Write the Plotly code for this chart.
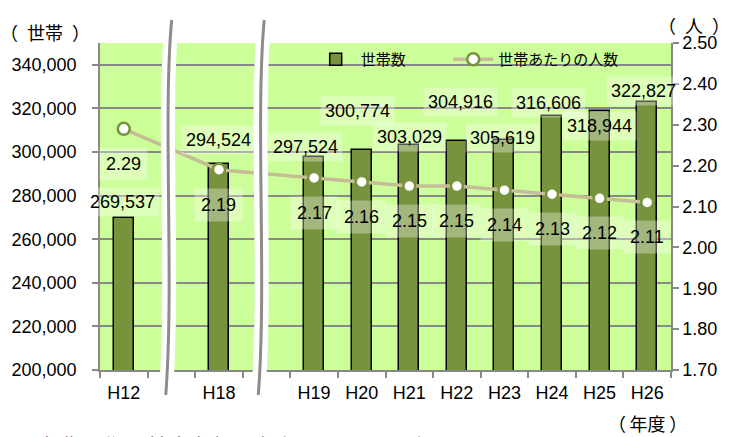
import plotly.graph_objects as go

# ---- data -------------------------------------------------------------
years = ["H12", "H18", "H19", "H20", "H21", "H22", "H23", "H24", "H25", "H26"]
households = [269537, 294524, 297524, 300774, 303029, 304916, 305619, 316606, 318944, 322827]
persons_per_household = [2.29, 2.19, 2.17, 2.16, 2.15, 2.15, 2.14, 2.13, 2.12, 2.11]

# x slots: empty slots mark the breaks between non-consecutive years
slots = ["H12", None, "H18", None, "H19", "H20", "H21", "H22", "H23", "H24", "H25", "H26"]
xpos = [slots.index(y) for y in years]

# label nudges (pixels) for the household labels
bar_label_dy = [16, 24, 10, 39, 8, 39, 2, 13, -15, 11]
bar_label_dx = [-1, 0, -9, -4, 0, 4, -2, -4, 0, -4]
line_label_dy = -35

BAR = "#77933C"
LINE = "#C4BD97"
GRID = "#888888"
BG = "#CCFF99"
FONT = "Liberation Sans, Arial, Noto Sans CJK JP, sans-serif"
JFONT = "Noto Sans CJK JP, sans-serif"

fig = go.Figure()

fig.add_trace(go.Bar(
    x=xpos, y=households, name="世帯数\u2003\u2003\u2002",
    width=0.42,
    marker=dict(color=BAR, line=dict(color="#000000", width=1.5)),
))

fig.add_trace(go.Scatter(
    x=xpos, y=persons_per_household, name="世帯あたりの人数",
    yaxis="y2", mode="lines+markers",
    line=dict(color=LINE, width=3.5),
    marker=dict(size=12, color="#FFFFFF", line=dict(color=BAR, width=2.5)),
))

# data labels
box = "rgba(255,255,255,0.33)"
for x, v, dy, dx in zip(xpos, households, bar_label_dy, bar_label_dx):
    fig.add_annotation(x=x, y=v, xref="x", yref="y", text=f"{v:,}",
                       showarrow=False, yshift=dy, xshift=dx,
                       font=dict(family=FONT, size=18, color="#000"),
                       bgcolor=box, borderpad=4)
for x, v in zip(xpos, persons_per_household):
    fig.add_annotation(x=x, y=v, xref="x", yref="y2", text=f"{v:.2f}",
                       showarrow=False, yshift=line_label_dy,
                       font=dict(family=FONT, size=18, color="#000"),
                       bgcolor=box, borderpad=6)

# axis break markers (wavy white bands with a grey stroke)
W, H = 580.0, 327.0
def wave(xc_px):
    xc = (xc_px - 94) / W
    top, bot = 1 + 23 / H, -25 / H
    a = 4 / W
    return (f"M {xc + 0.7*a},{top} C {xc - 1.6*a},{top - 0.3} "
            f"{xc + 1.4*a},{bot + 0.35} {xc - 0.8*a},{bot}")

for xc_px in (164, 258):
    p = wave(xc_px)
    fig.add_shape(type="path", path=p, xref="paper", yref="paper",
                  line=dict(color="#FFFFFF", width=14), layer="above")
    fig.add_shape(type="path", path=p, xref="paper", yref="paper",
                  line=dict(color="#8C8C8C", width=3), layer="above")

# axis unit captions
cap = dict(xref="paper", yref="paper", showarrow=False, xanchor="center", yanchor="middle")
fig.add_annotation(text="（\u2002世帯\u2002）", x=-0.097, y=1.034,
                   font=dict(family=JFONT, size=18, color="#000"), **cap)
fig.add_annotation(text="（\u2002人\u2002）", x=1.041, y=1.055,
                   font=dict(family=JFONT, size=18, color="#000"), **cap)
fig.add_annotation(text="（\u2009年度\u2009）", x=0.959, y=-0.162,
                   font=dict(family=JFONT, size=18, color="#000"), **cap)
fig.add_annotation(text="出典：住民基本台帳（毎年４月１日現在）", xref="paper", yref="paper",
                   x=-0.116, y=-0.175, xanchor="left", yanchor="top",
                   showarrow=False, font=dict(family=JFONT, size=22, color="#000"))

fig.update_layout(
    width=729, height=437,
    margin=dict(l=94, r=55, t=43, b=67),
    paper_bgcolor="#FFFFFF", plot_bgcolor=BG,
    font=dict(family=FONT, size=18, color="#000"),
    showlegend=True,
    legend=dict(orientation="h", x=0.369, y=1.0, xanchor="left", yanchor="top",
                bgcolor="rgba(0,0,0,0)", font=dict(family=JFONT, size=15),
                itemwidth=40, tracegroupgap=0),
    bargap=0,
    xaxis=dict(
        range=[-0.5, len(slots) - 0.5],
        tickmode="array", tickvals=xpos, ticktext=years,
        ticks="", showgrid=False, zeroline=False,
        showline=True, linecolor=GRID, linewidth=1.5,
        minor=dict(tickmode="array", tickvals=[i - 0.5 for i in range(len(slots) + 1)],
                   ticks="outside", ticklen=6, tickcolor=GRID, tickwidth=1.5, showgrid=False),
        tickfont=dict(size=18), ticklabelstandoff=6,
    ),
    yaxis=dict(
        range=[200000, 350000], dtick=20000, tick0=200000, tickformat=",",
        showgrid=True, gridcolor=GRID, gridwidth=1.5, zeroline=False,
        showline=True, linecolor=GRID, linewidth=1.5,
        ticks="outside", ticklen=6, tickcolor=GRID, tickwidth=1.5,
        tickfont=dict(size=18), ticklabelstandoff=12,
    ),
    yaxis2=dict(
        overlaying="y", side="right",
        range=[1.7, 2.5], dtick=0.1, tick0=1.7, tickformat=".2f",
        showgrid=False, zeroline=False,
        showline=True, linecolor=GRID, linewidth=1.5,
        ticks="outside", ticklen=6, tickcolor=GRID, tickwidth=1.5,
        tickfont=dict(size=18),
    ),
)

fig.write_html("out.html")
